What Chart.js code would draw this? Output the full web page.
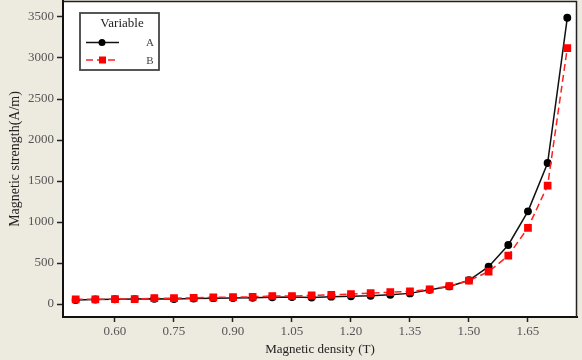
<!DOCTYPE html>
<html>
<head>
<meta charset="utf-8">
<script src="https://cdn.jsdelivr.net/npm/chart.js@4/dist/chart.umd.min.js"></script>
<style>
html,body{margin:0;padding:0;background:#EDEAE0;}
#wrap{width:582px;height:360px;}
</style>
</head>
<body>
<div id="wrap"><canvas id="c" width="582" height="360"></canvas></div>
<script>
// Magnetic density (T)
const density = [0.50,0.55,0.60,0.65,0.70,0.75,0.80,0.85,0.90,0.95,1.00,1.05,1.10,1.15,1.20,1.25,1.30,1.35,1.40,1.45,1.50,1.55,1.60,1.65,1.70,1.75];
// Magnetic strength (A/m), series A and B
const seriesA = [50,55,58,60,65,62,68,72,74,76,82,86,80,90,95,100,112,130,175,215,290,455,720,1130,1720,3490];
const seriesB = [58,58,60,60,72,72,75,82,84,88,98,98,105,112,122,132,145,155,180,220,285,395,590,930,1445,3120];
const seriesNames = ['A','B'];
const xTicks = [0.60,0.75,0.90,1.05,1.20,1.35,1.50,1.65];
const yTicks = [0,500,1000,1500,2000,2500,3000,3500];

const serif = '"Liberation Serif", "DejaVu Serif", serif';

const bgPlugin = {
  id:'bg',
  beforeDraw(chart){
    const {ctx, chartArea:a} = chart;
    ctx.save();
    ctx.fillStyle = '#EDEAE0';
    ctx.fillRect(0,0,chart.width,chart.height);
    ctx.fillStyle = '#FFFFFF';
    ctx.fillRect(a.left,a.top,a.right-a.left,a.bottom-a.top);
    ctx.restore();
  },
  afterDraw(chart){
    const {ctx, chartArea:a} = chart;
    ctx.save();
    // top/right frame
    ctx.strokeStyle = '#222';
    ctx.lineWidth = 1.5;
    ctx.beginPath();
    ctx.moveTo(a.left, a.top+0.5);
    ctx.lineTo(a.right-0.5, a.top+0.5);
    ctx.lineTo(a.right-0.5, a.bottom);
    ctx.stroke();
    // legend
    const lx=80, ly=13, lw=79, lh=57;
    ctx.fillStyle='#fff';
    ctx.fillRect(lx,ly,lw,lh);
    ctx.strokeStyle='#444';
    ctx.lineWidth=1.8;
    ctx.strokeRect(lx,ly,lw,lh);
    ctx.fillStyle='#222';
    ctx.font = '13px '+serif;
    ctx.textAlign='center';
    ctx.textBaseline='middle';
    ctx.fillText('Variable', 122, 24);
    const ds = chart.data.datasets;
    const rows=[42.5,60];
    ds.forEach((d,i)=>{
      const y=rows[i];
      ctx.save();
      ctx.strokeStyle=d.borderColor;
      ctx.lineWidth=1.5;
      ctx.setLineDash(d.borderDash||[]);
      ctx.beginPath();
      ctx.moveTo(86,y); ctx.lineTo(119,y); ctx.stroke();
      ctx.restore();
      ctx.fillStyle=d.pointBackgroundColor;
      if(d.pointStyle==='rect'){
        ctx.fillRect(99,y-3.5,7,7);
      } else {
        ctx.beginPath(); ctx.arc(102,y,3.5,0,Math.PI*2); ctx.fill();
      }
      ctx.fillStyle='#444';
      ctx.font='11px '+serif;
      ctx.fillText(d.label,150,y+1);
    });
    ctx.restore();
  }
};

function noPad(s){ s.paddingTop=0; s.paddingBottom=0; s.paddingLeft=0; s.paddingRight=0; }

new Chart(document.getElementById('c'), {
  type:'line',
  data:{
    datasets:[
      {label:seriesNames[0], data:density.map((x,i)=>({x, y:seriesA[i]})), borderColor:'#111111', backgroundColor:'#111111',
       pointBackgroundColor:'#000000', pointBorderColor:'#000000', pointStyle:'circle', pointRadius:3.2, borderWidth:1.5, tension:0, order:1},
      {label:seriesNames[1], data:density.map((x,i)=>({x, y:seriesB[i]})), borderColor:'#FF2020', backgroundColor:'#FF0000',
       pointBackgroundColor:'#FF0000', pointBorderColor:'#FF0000', pointStyle:'rect', pointRadius:4.4, borderWidth:1.5, borderDash:[7,4], tension:0, order:0}
    ]
  },
  options:{
    responsive:false,
    animation:false,
    layout:{autoPadding:false, padding:{top:1,right:5,left:0,bottom:0}},
    plugins:{legend:{display:false}, tooltip:{enabled:false}},
    scales:{
      x:{type:'linear', min:0.4678, max:1.7747,
        afterBuildTicks(s){ s.ticks = xTicks.map(v=>({value:v})); },
        afterFit(s){ s.height = 43; noPad(s); },
        ticks:{callback:(v)=>Number(v).toFixed(2), font:{family:serif, size:13}, color:'#555', padding:2, maxRotation:0, autoSkip:false},
        grid:{drawOnChartArea:false, drawTicks:true, tickLength:5, tickColor:'#222', tickWidth:1.5},
        border:{color:'#111', width:2},
        title:{display:true, text:'Magnetic density (T)', font:{family:serif, size:13}, color:'#222', padding:{top:0,bottom:3}}
      },
      y:{type:'linear', min:-158, max:3695,
        afterBuildTicks(s){ s.ticks = yTicks.map(v=>({value:v})); },
        afterFit(s){ s.width = 63; noPad(s); },
        ticks:{callback:(v)=>String(v), font:{family:serif, size:13}, color:'#555', padding:3, autoSkip:false},
        grid:{drawOnChartArea:false, drawTicks:true, tickLength:6, tickColor:'#222', tickWidth:1.5},
        border:{color:'#111', width:2},
        title:{display:true, text:'Magnetic strength(A/m)', font:{family:serif, size:14}, color:'#222', padding:{top:7,bottom:0}}
      }
    }
  },
  plugins:[bgPlugin]
});
</script>
</body>
</html>
